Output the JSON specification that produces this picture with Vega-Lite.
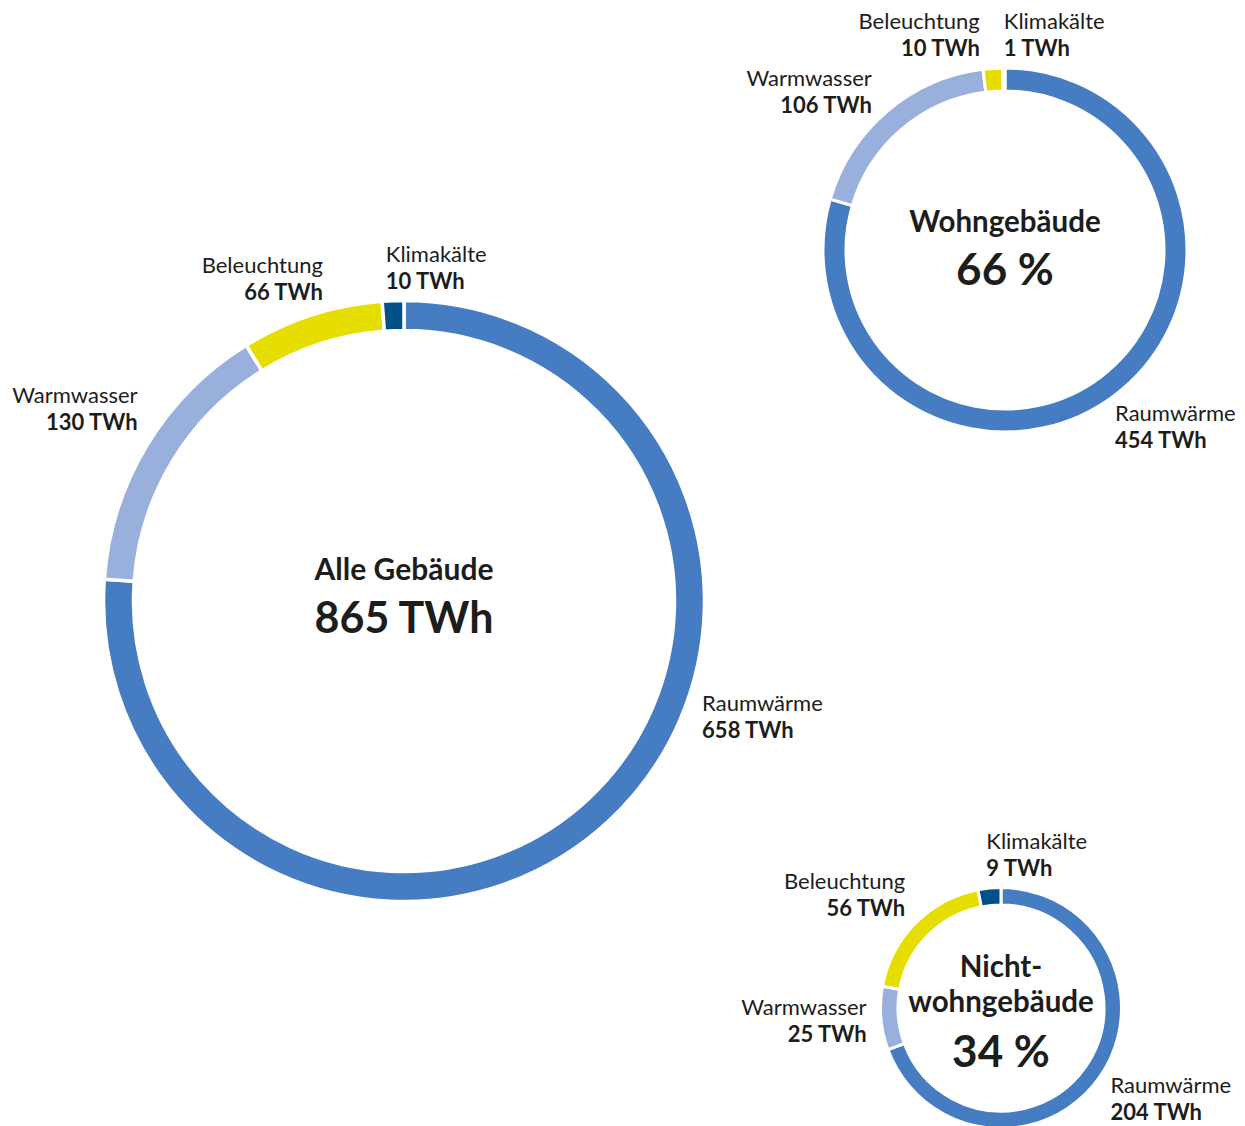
{
  "$schema": "https://vega.github.io/schema/vega-lite/v6.json",
  "padding": 0,
  "background": "white",
  "spacing": 808,
  "bounds": "flush",
  "config": {"view": {"stroke": null}, "font": "Lato"},
  "datasets": {
    "Verbrauch": [
      {"Gebäude": "Alle Gebäude", "Kategorie": "Raumwärme", "TWh": 658, "Nr": 1},
      {"Gebäude": "Alle Gebäude", "Kategorie": "Warmwasser", "TWh": 130, "Nr": 2},
      {"Gebäude": "Alle Gebäude", "Kategorie": "Beleuchtung", "TWh": 66, "Nr": 3},
      {"Gebäude": "Alle Gebäude", "Kategorie": "Klimakälte", "TWh": 10, "Nr": 4},
      {"Gebäude": "Wohngebäude", "Kategorie": "Raumwärme", "TWh": 454, "Nr": 1},
      {"Gebäude": "Wohngebäude", "Kategorie": "Warmwasser", "TWh": 106, "Nr": 2},
      {"Gebäude": "Wohngebäude", "Kategorie": "Beleuchtung", "TWh": 10, "Nr": 3},
      {"Gebäude": "Wohngebäude", "Kategorie": "Klimakälte", "TWh": 1, "Nr": 4},
      {"Gebäude": "Nichtwohngebäude", "Kategorie": "Raumwärme", "TWh": 204, "Nr": 1},
      {"Gebäude": "Nichtwohngebäude", "Kategorie": "Warmwasser", "TWh": 25, "Nr": 2},
      {"Gebäude": "Nichtwohngebäude", "Kategorie": "Beleuchtung", "TWh": 56, "Nr": 3},
      {"Gebäude": "Nichtwohngebäude", "Kategorie": "Klimakälte", "TWh": 9, "Nr": 4}
    ],
    "Zentrum": [
      {"Gebäude": "Alle Gebäude", "Titel": "Alle Gebäude", "Wert": "865 TWh"},
      {"Gebäude": "Wohngebäude", "Titel": "Wohngebäude", "Wert": "66 %"},
      {"Gebäude": "Nichtwohngebäude", "Titel": "Nicht-\nwohngebäude", "Wert": "34 %"}
    ]
  },
  "hconcat": [
    {
      "spacing": 70,
      "bounds": "flush",
      "vconcat": [
        {"width": 808, "height": 6, "data": {"values": []}, "mark": "point", "encoding": {}},
        {
          "width": 808,
          "height": 1050,
          "layer": [
            {
              "data": {"name": "Verbrauch"},
              "transform": [{"filter": "datum['Gebäude'] == 'Alle Gebäude'"}],
              "mark": {"type": "arc", "outerRadius": 300.5, "innerRadius": 270.5, "stroke": "white", "strokeWidth": 3.5},
              "encoding": {
                "theta": {"field": "TWh", "type": "quantitative", "stack": true},
                "order": {"field": "Nr", "type": "quantitative"},
                "color": {"field": "Kategorie", "type": "nominal", "legend": null,
                  "scale": {"domain": ["Raumwärme", "Warmwasser", "Beleuchtung", "Klimakälte"], "range": ["#467dc2", "#9ab0dc", "#e6de00", "#00508a"]}}
              }
            },
            {
              "data": {"name": "Verbrauch"},
              "transform": [{"filter": "datum['Gebäude'] == 'Alle Gebäude'"}],
              "mark": {"type": "text", "radius": 335, "fontSize": 22, "color": "#1d1d1b", "baseline": "middle",
                "align": {"expr": "datum.Kategorie == 'Raumwärme' || datum.Kategorie == 'Klimakälte' ? 'left' : 'right'"},
                "dx": {"expr": "datum.Kategorie == 'Raumwärme' ? 70 : datum.Kategorie == 'Warmwasser' ? 20 : datum.Kategorie == 'Beleuchtung' ? 22 : -6"},
                "dy": {"expr": "(datum.Kategorie == 'Raumwärme' ? -129 : datum.Kategorie == 'Warmwasser' ? -18 : datum.Kategorie == 'Beleuchtung' ? -3 : 2) - 13.5"}},
              "encoding": {
                "theta": {"field": "TWh", "type": "quantitative", "stack": true},
                "order": {"field": "Nr", "type": "quantitative"},
                "detail": {"field": "Kategorie", "type": "nominal"},
                "text": {"field": "Kategorie", "type": "nominal"}
              }
            },
            {
              "data": {"name": "Verbrauch"},
              "transform": [{"filter": "datum['Gebäude'] == 'Alle Gebäude'"}, {"calculate": "datum.TWh + ' TWh'", "as": "Beschriftung"}],
              "mark": {"type": "text", "radius": 335, "fontSize": 22, "fontWeight": "bold", "color": "#1d1d1b", "baseline": "middle",
                "align": {"expr": "datum.Kategorie == 'Raumwärme' || datum.Kategorie == 'Klimakälte' ? 'left' : 'right'"},
                "dx": {"expr": "datum.Kategorie == 'Raumwärme' ? 70 : datum.Kategorie == 'Warmwasser' ? 20 : datum.Kategorie == 'Beleuchtung' ? 22 : -6"},
                "dy": {"expr": "(datum.Kategorie == 'Raumwärme' ? -129 : datum.Kategorie == 'Warmwasser' ? -18 : datum.Kategorie == 'Beleuchtung' ? -3 : 2) + 13.5"}},
              "encoding": {
                "theta": {"field": "TWh", "type": "quantitative", "stack": true},
                "order": {"field": "Nr", "type": "quantitative"},
                "detail": {"field": "Kategorie", "type": "nominal"},
                "text": {"field": "Beschriftung", "type": "nominal"}
              }
            },
            {
              "data": {"name": "Zentrum"},
              "transform": [{"filter": "datum['Gebäude'] == 'Alle Gebäude'"}],
              "mark": {"type": "text", "fontSize": 30, "fontWeight": "bold", "color": "#1d1d1b", "baseline": "middle", "dy": -30},
              "encoding": {"text": {"field": "Titel", "type": "nominal"}}
            },
            {
              "data": {"name": "Zentrum"},
              "transform": [{"filter": "datum['Gebäude'] == 'Alle Gebäude'"}],
              "mark": {"type": "text", "fontSize": 43, "fontWeight": "bold", "color": "#1d1d1b", "baseline": "middle", "dy": 19},
              "encoding": {"text": {"field": "Wert", "type": "nominal"}}
            }
          ]
        }
      ]
    },
    {
      "spacing": 390,
      "bounds": "flush",
      "vconcat": [
        {
          "width": 394,
          "height": 500,
          "layer": [
            {
              "data": {"name": "Verbrauch"},
              "transform": [{"filter": "datum['Gebäude'] == 'Wohngebäude'"}],
              "mark": {"type": "arc", "outerRadius": 182, "innerRadius": 159, "stroke": "white", "strokeWidth": 3},
              "encoding": {
                "theta": {"field": "TWh", "type": "quantitative", "stack": true},
                "order": {"field": "Nr", "type": "quantitative"},
                "color": {"field": "Kategorie", "type": "nominal", "legend": null,
                  "scale": {"domain": ["Raumwärme", "Warmwasser", "Beleuchtung", "Klimakälte"], "range": ["#467dc2", "#9ab0dc", "#e6de00", "#00508a"]}}
              }
            },
            {
              "data": {"name": "Verbrauch"},
              "transform": [{"filter": "datum['Gebäude'] == 'Wohngebäude'"}],
              "mark": {"type": "text", "radius": 215, "fontSize": 22, "color": "#1d1d1b", "baseline": "middle",
                "align": {"expr": "datum.Kategorie == 'Raumwärme' || datum.Kategorie == 'Klimakälte' ? 'left' : 'right'"},
                "dx": {"expr": "datum.Kategorie == 'Raumwärme' ? -19 : datum.Kategorie == 'Warmwasser' ? 6 : datum.Kategorie == 'Beleuchtung' ? -11 : 0"},
                "dy": {"expr": "(datum.Kategorie == 'Raumwärme' ? 6 : datum.Kategorie == 'Warmwasser' ? 6 : 0) - 13.5"}},
              "encoding": {
                "theta": {"field": "TWh", "type": "quantitative", "stack": true},
                "order": {"field": "Nr", "type": "quantitative"},
                "detail": {"field": "Kategorie", "type": "nominal"},
                "text": {"field": "Kategorie", "type": "nominal"}
              }
            },
            {
              "data": {"name": "Verbrauch"},
              "transform": [{"filter": "datum['Gebäude'] == 'Wohngebäude'"}, {"calculate": "datum.TWh + ' TWh'", "as": "Beschriftung"}],
              "mark": {"type": "text", "radius": 215, "fontSize": 22, "fontWeight": "bold", "color": "#1d1d1b", "baseline": "middle",
                "align": {"expr": "datum.Kategorie == 'Raumwärme' || datum.Kategorie == 'Klimakälte' ? 'left' : 'right'"},
                "dx": {"expr": "datum.Kategorie == 'Raumwärme' ? -19 : datum.Kategorie == 'Warmwasser' ? 6 : datum.Kategorie == 'Beleuchtung' ? -11 : 0"},
                "dy": {"expr": "(datum.Kategorie == 'Raumwärme' ? 6 : datum.Kategorie == 'Warmwasser' ? 6 : 0) + 13.5"}},
              "encoding": {
                "theta": {"field": "TWh", "type": "quantitative", "stack": true},
                "order": {"field": "Nr", "type": "quantitative"},
                "detail": {"field": "Kategorie", "type": "nominal"},
                "text": {"field": "Beschriftung", "type": "nominal"}
              }
            },
            {
              "data": {"name": "Zentrum"},
              "transform": [{"filter": "datum['Gebäude'] == 'Wohngebäude'"}],
              "mark": {"type": "text", "fontSize": 29.5, "fontWeight": "bold", "color": "#1d1d1b", "baseline": "middle", "dy": -27},
              "encoding": {"text": {"field": "Titel", "type": "nominal"}}
            },
            {
              "data": {"name": "Zentrum"},
              "transform": [{"filter": "datum['Gebäude'] == 'Wohngebäude'"}],
              "mark": {"type": "text", "fontSize": 44, "fontWeight": "bold", "color": "#1d1d1b", "baseline": "middle", "dy": 22},
              "encoding": {"text": {"field": "Wert", "type": "nominal"}}
            }
          ]
        },
        {
          "width": 386,
          "height": 236,
          "layer": [
            {
              "data": {"name": "Verbrauch"},
              "transform": [{"filter": "datum['Gebäude'] == 'Nichtwohngebäude'"}],
              "mark": {"type": "arc", "outerRadius": 120.5, "innerRadius": 103, "stroke": "white", "strokeWidth": 3},
              "encoding": {
                "theta": {"field": "TWh", "type": "quantitative", "stack": true},
                "order": {"field": "Nr", "type": "quantitative"},
                "color": {"field": "Kategorie", "type": "nominal", "legend": null,
                  "scale": {"domain": ["Raumwärme", "Warmwasser", "Beleuchtung", "Klimakälte"], "range": ["#467dc2", "#9ab0dc", "#e6de00", "#00508a"]}}
              }
            },
            {
              "data": {"name": "Verbrauch"},
              "transform": [{"filter": "datum['Gebäude'] == 'Nichtwohngebäude'"}],
              "mark": {"type": "text", "radius": 153, "fontSize": 22, "color": "#1d1d1b", "baseline": "middle",
                "align": {"expr": "datum.Kategorie == 'Raumwärme' || datum.Kategorie == 'Klimakälte' ? 'left' : 'right'"},
                "dx": {"expr": "datum.Kategorie == 'Raumwärme' ? -16 : datum.Kategorie == 'Warmwasser' ? 18 : datum.Kategorie == 'Beleuchtung' ? 13 : 0"},
                "dy": {"expr": "(datum.Kategorie == 'Raumwärme' ? 4 : datum.Kategorie == 'Beleuchtung' ? -5 : 0) - 13.5"}},
              "encoding": {
                "theta": {"field": "TWh", "type": "quantitative", "stack": true},
                "order": {"field": "Nr", "type": "quantitative"},
                "detail": {"field": "Kategorie", "type": "nominal"},
                "text": {"field": "Kategorie", "type": "nominal"}
              }
            },
            {
              "data": {"name": "Verbrauch"},
              "transform": [{"filter": "datum['Gebäude'] == 'Nichtwohngebäude'"}, {"calculate": "datum.TWh + ' TWh'", "as": "Beschriftung"}],
              "mark": {"type": "text", "radius": 153, "fontSize": 22, "fontWeight": "bold", "color": "#1d1d1b", "baseline": "middle",
                "align": {"expr": "datum.Kategorie == 'Raumwärme' || datum.Kategorie == 'Klimakälte' ? 'left' : 'right'"},
                "dx": {"expr": "datum.Kategorie == 'Raumwärme' ? -16 : datum.Kategorie == 'Warmwasser' ? 18 : datum.Kategorie == 'Beleuchtung' ? 13 : 0"},
                "dy": {"expr": "(datum.Kategorie == 'Raumwärme' ? 4 : datum.Kategorie == 'Beleuchtung' ? -5 : 0) + 13.5"}},
              "encoding": {
                "theta": {"field": "TWh", "type": "quantitative", "stack": true},
                "order": {"field": "Nr", "type": "quantitative"},
                "detail": {"field": "Kategorie", "type": "nominal"},
                "text": {"field": "Beschriftung", "type": "nominal"}
              }
            },
            {
              "data": {"name": "Zentrum"},
              "transform": [{"filter": "datum['Gebäude'] == 'Nichtwohngebäude'"}],
              "mark": {"type": "text", "fontSize": 29.5, "fontWeight": "bold", "color": "#1d1d1b", "baseline": "middle", "dy": -40, "lineBreak": "\n", "lineHeight": 35},
              "encoding": {"text": {"field": "Titel", "type": "nominal"}}
            },
            {
              "data": {"name": "Zentrum"},
              "transform": [{"filter": "datum['Gebäude'] == 'Nichtwohngebäude'"}],
              "mark": {"type": "text", "fontSize": 44, "fontWeight": "bold", "color": "#1d1d1b", "baseline": "middle", "dy": 46},
              "encoding": {"text": {"field": "Wert", "type": "nominal"}}
            }
          ]
        }
      ]
    }
  ]
}
